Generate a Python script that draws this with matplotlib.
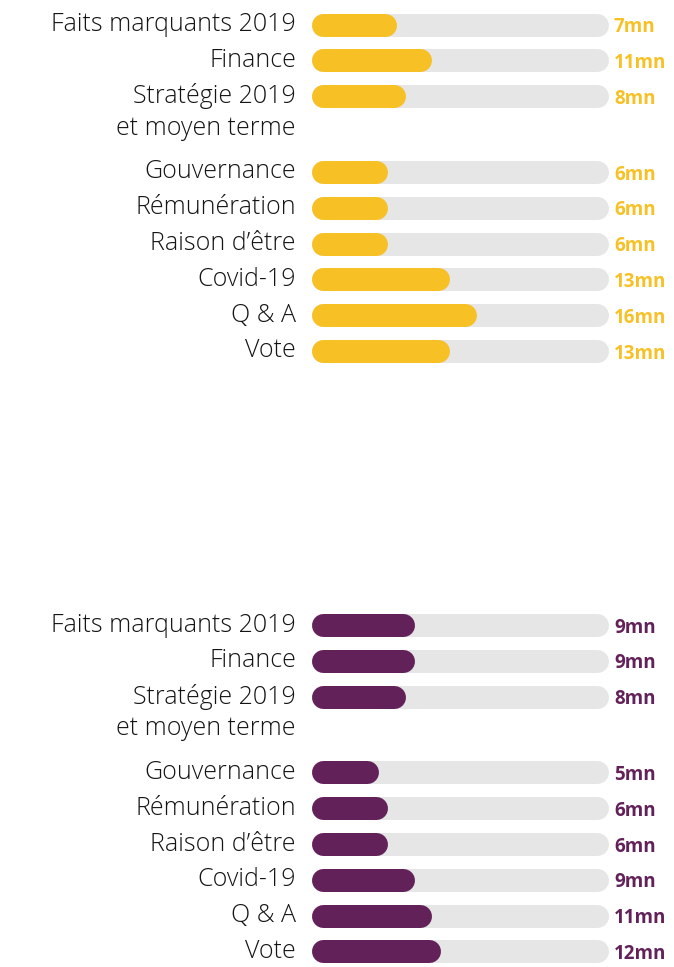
import matplotlib.pyplot as plt

# data
categories = ["Faits marquants 2019", "Finance", "Stratégie 2019\net moyen terme",
              "Gouvernance", "Rémunération", "Raison d\u2019être",
              "Covid-19", "Q & A", "Vote"]
minutes_top = [7, 11, 8, 6, 6, 6, 13, 16, 13]
minutes_bottom = [9, 9, 8, 5, 6, 6, 9, 11, 12]

yellow = "#F7C125"
purple = "#63215A"
grey = "#E6E6E6"

W, H, dpi = 674, 967, 100
fig = plt.figure(figsize=(W / dpi, H / dpi), dpi=dpi)

# layout (pixels)
x0 = 322.5          # pixel x of value 0
k = 8.9             # pixels per minute
slot = 35.8         # pixels per row
first = 24.5        # pixel y of first row centre inside a panel
panel_h = 366.0
lw = 23 * 72 / dpi  # bar thickness in points


def row_positions(labels):
    pos, y = [], 0.0
    for lab in labels:
        pos.append(y)
        y += 1.0 + 1.12 * lab.count("\n")
    return pos


def draw_panel(top_px, values, color):
    ax = fig.add_axes([0, 1 - (top_px + panel_h) / H, 1, panel_h / H])
    ax.set_xlim(-x0 / k, (W - x0) / k)
    ax.set_ylim((panel_h - first) / slot, -first / slot)
    ax.axis("off")
    pos = row_positions(categories)
    track_len = (608 - 11.5 - x0) / k
    for lab, v, y in zip(categories, values, pos):
        ax.plot([0, track_len], [y, y], color=grey, lw=lw, solid_capstyle="round")
        ax.plot([0, v], [y, y], color=color, lw=lw, solid_capstyle="round")
        for i, line in enumerate(lab.split("\n")):
            ax.text(-26.5 / k, y + 0.9 * i, line, ha="right", va="center",
                    fontsize=18, family="Open Sans", fontweight="light",
                    color="#141414")
        ax.text((614 - x0) / k, y + 0.07, f"{v}mn", ha="left", va="center",
                fontsize=13.5, family="Open Sans", fontweight="bold", color=color)
    return ax


draw_panel(0, minutes_top, yellow)
draw_panel(600.5, minutes_bottom, purple)

fig.savefig("out.png", dpi=dpi)
